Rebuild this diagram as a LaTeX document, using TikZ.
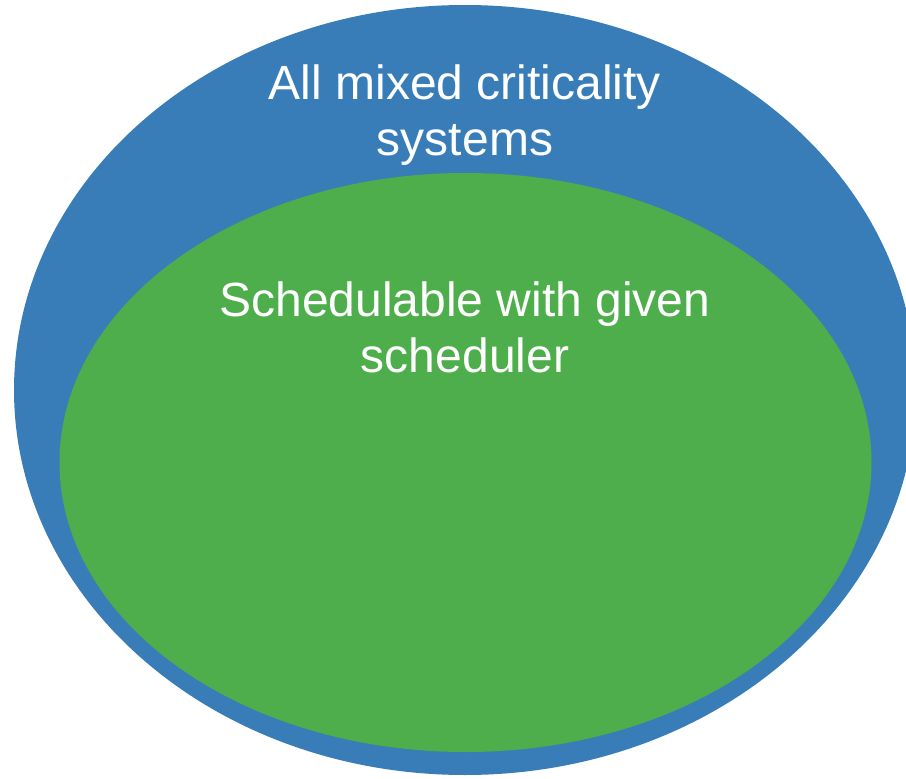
\documentclass[tikz,border=0pt]{standalone}
\usepackage{fontspec}
\setmainfont{Liberation Sans}
\definecolor{setblue}{HTML}{387DB8}
\definecolor{setgreen}{HTML}{4EAE4B}
\begin{document}
\begin{tikzpicture}[x=1pt,y=-1pt,
  setlabel/.style={text=white,align=center,anchor=base,inner sep=0pt,
    font=\fontsize{48}{56}\selectfont}]
\useasboundingbox (0,0) rectangle (906,779);
\clip (0,0) rectangle (906,779);
% outer set: all systems
\fill[setblue] (465,390) ellipse [x radius=451, y radius=385];
% inner set: schedulable ones
\fill[setgreen] (465.5,462.5) ellipse [x radius=406, y radius=289.5];
% labels, placed by the baseline of their last line
\node[setlabel] (all) at (465,155) {All mixed criticality\\systems};
\node[setlabel] (sched) at (465,372) {Schedulable with given\\scheduler};
\end{tikzpicture}
\end{document}
